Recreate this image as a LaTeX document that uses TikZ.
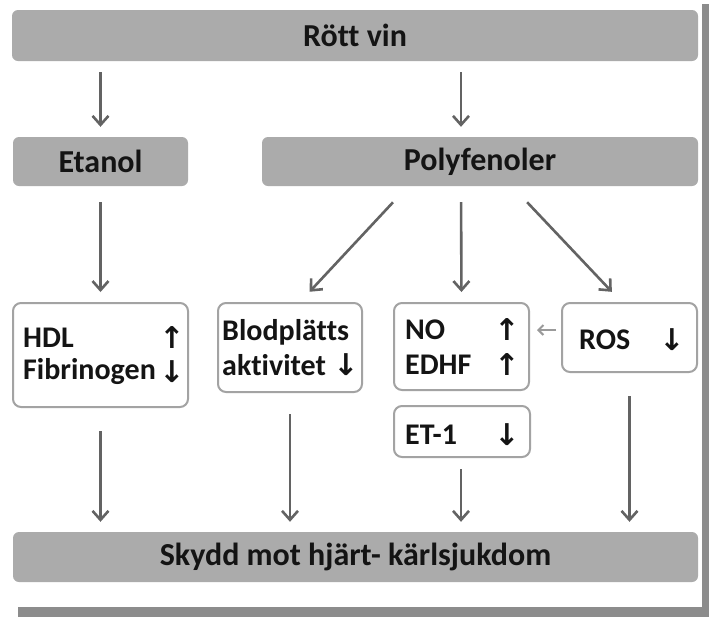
\documentclass[tikz,border=0pt]{standalone}
\usepackage{fontspec}
\setmainfont{Carlito}[Ligatures=NoCommon]
\newfontfamily\arrowfont{DejaVu Sans}
\usetikzlibrary{arrows.meta,calc}
\definecolor{barfill}{HTML}{ABABAB}
\definecolor{boxline}{HTML}{A3A3A3}
\definecolor{arrowgray}{HTML}{636363}
\definecolor{lightarrow}{HTML}{9A9A9A}
\definecolor{shadowgray}{HTML}{8C8C8C}
\definecolor{txt}{HTML}{141414}
\begin{document}
\begin{tikzpicture}[x=1pt,y=-1pt,
  bar/.style={draw=none, fill=barfill, rounded corners=6pt, inner sep=0pt, text=txt, font=\bfseries\fontsize{32}{38}\selectfont},
  wbox/.style={draw=boxline, line width=2pt, fill=white, rounded corners=8pt, inner sep=0pt},
  lbl/.style={anchor=west, inner sep=0pt, text=txt, font=\bfseries\fontsize{30}{36}\selectfont},
  sym/.style={inner sep=0pt, text=txt, font=\arrowfont\bfseries\fontsize{30}{36}\selectfont},
  conn/.style={draw=arrowgray, line width=2.6pt, -{Straight Barb[length=9pt,width=16pt,line width=2.6pt]}},
  thin/.style={draw=lightarrow, line width=2pt, -{Straight Barb[length=5pt,width=10pt,line width=2pt]}},
]
\fill[white] (0,0) rectangle (710,619);
\useasboundingbox (0,0) rectangle (710,619);
% drop shadow of the panel
\fill[shadowgray] (702,4) rectangle (709,617);
\fill[shadowgray] (18,607) rectangle (709,617);

% bars
\node[bar, minimum width=686pt, minimum height=51pt] (rv) at (355,35.5) {Rött vin};
\node[bar, minimum width=175pt, minimum height=49pt] (et) at (100.5,161.5) {Etanol};
\node[bar, minimum width=436pt, minimum height=49pt] (pf) at (480,161.5) {Polyfenoler};
\node[bar, minimum width=685pt, minimum height=50pt] (sk) at (355.5,557) {Skydd mot hjärt- kärlsjukdom};

% white boxes
\node[wbox, minimum width=175pt, minimum height=104pt] (hdl) at (100.5,355) {};
\node[wbox, minimum width=144pt, minimum height=89pt] (blod) at (290,347.5) {};
\node[wbox, minimum width=135pt, minimum height=87pt] (no) at (461.5,346.5) {};
\node[wbox, minimum width=135pt, minimum height=69pt] (ros) at (629.5,337.5) {};
\node[wbox, minimum width=136pt, minimum height=51pt] (et1) at (462,431.5) {};

% box texts
\node[lbl] (thdl) at (23,338) {HDL};
\node[lbl] (tfib) at (23,372) {Fibrinogen};
\node[sym] (ahdl) at (172,338) {↑};
\node[sym] (afib) at (172,372) {↓};

\node[lbl] (tblod) at (222,332) {Blodplätts};
\node[lbl] (takt) at (222,365) {aktivitet};
\node[sym] (aakt) at (346,365) {↓};

\node[lbl] (tno) at (405,330) {NO};
\node[lbl] (tedhf) at (405,365) {EDHF};
\node[sym] (ano) at (507,330) {↑};
\node[sym] (aedhf) at (507,365) {↑};

\node[lbl] (tros) at (579,340) {ROS};
\node[sym] (aros) at (672,340) {↓};

\node[lbl] (tet1) at (405,435) {ET-1};
\node[sym] (aet1) at (507,435) {↓};

% connectors
\draw[conn, shorten <=11pt, shorten >=10pt] (et.north |- rv.south) -- (et.north);
\draw[conn, shorten <=11pt, shorten >=10pt] ($(rv.south)+(106,0)$) -- ($(pf.north)+(-19,0)$);
\draw[conn, shorten <=16pt, shorten >=10pt] (et.south) -- (hdl.north);
\draw[conn, shorten <=16pt, shorten >=10pt] ($(pf.south)+(-19,0)$) -- (no.north);
\draw[conn, shorten <=22pt, shorten >=14pt] ($(pf.south)+(-72,0)$) -- ($(blod.north)+(10,0)$);
\draw[conn, shorten <=22pt, shorten >=14pt] ($(pf.south)+(32,0)$) -- ($(ros.north)+(-8,0)$);
\draw[thin, shorten <=5pt, shorten >=7pt] (ros.west |- tno) -- (no.east |- tno);

\draw[conn, shorten <=23pt, shorten >=10pt] (hdl.south) -- (hdl.south |- sk.north);
\draw[conn, shorten <=21pt, shorten >=10pt] (blod.south) -- (blod.south |- sk.north);
\draw[conn, shorten <=11pt, shorten >=10pt] ($(et1.south)+(-1,0)$) -- ($(et1.south |- sk.north)+(-1,0)$);
\draw[conn, shorten <=23pt, shorten >=10pt] (ros.south) -- (ros.south |- sk.north);
\end{tikzpicture}
\end{document}
